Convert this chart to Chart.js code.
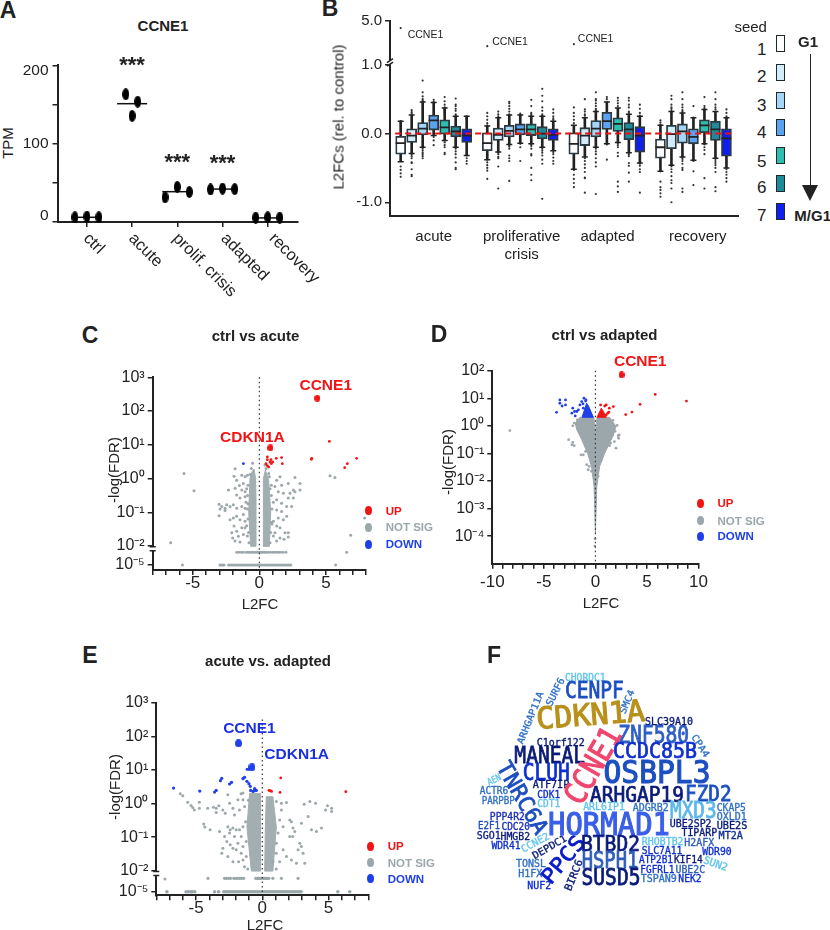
<!DOCTYPE html>
<html>
<head>
<meta charset="utf-8">
<title>CCNE1 figure</title>
<script src="https://cdn.jsdelivr.net/npm/chart.js@4"></script>
<style>
html,body{margin:0;background:#fff}
body{position:relative;width:830px;height:930px;overflow:hidden;font-family:"Liberation Sans",Arial,sans-serif;color:#222}
canvas{position:absolute}
.t{position:absolute;white-space:nowrap;transform:translate(-50%,-50%)}
.dot,.swatch{position:absolute}
</style>
</head>
<body>
<script>
// ---- panel A ----
const tpmGroups = ['ctrl','acute','prolif. crisis','adapted','recovery'];
const tpmValues = [[6,7,6],[163,153.6,135.5],[31.5,44.8,38.3],[41.5,42.7,42],[5.6,6,5.6]];
const tpmMeans = [6,151,38.7,42,5.2];
const tpmStars = [null,'***','***','***',null];
const tpmStarLevels = [null,198,74,73,null];

// ---- panel B: [low whisker, q1, median, q3, high whisker] per seed ----
const seeds = [1,2,3,4,5,6,7];
const conditions = ['acute',['proliferative','crisis'],'adapted','recovery'];
const acuteBoxes = [[-.41,-.3,-.14,-.04,.18],[-.29,-.13,-.03,.07,.27],[-.2,-.02,.07,.16,.46],[-.03,.05,.19,.27,.45],[-.1,-.01,.09,.2,.37],[-.2,-.05,.03,.11,.25],[-.32,-.13,-.03,.07,.25]];
const prolifBoxes = [[-.38,-.25,-.14,.01,.11],[-.27,-.1,-.02,.08,.23],[-.16,-.05,.04,.12,.27],[-.14,-.02,.06,.14,.27],[-.15,-.03,.06,.14,.25],[-.2,-.08,0,.1,.25],[-.25,-.1,-.02,.07,.18]];
const adaptedBoxes = [[-.52,-.3,-.15,.01,.12],[-.34,-.175,-.03,.085,.23],[-.2,-.05,.07,.19,.32],[-.15,.06,.18,.31,.46],[-.13,.03,.14,.23,.37],[-.28,-.09,.06,.16,.28],[-.43,-.27,-.03,.1,.25]];
const recoveryBoxes = [[-.55,-.36,-.2,-.08,.12],[-.46,-.22,-.01,.12,.32],[-.34,-.14,.03,.14,.3],[-.39,-.15,-.05,.07,.23],[-.15,0,.12,.2,.35],[-.36,-.1,.06,.18,.32],[-.5,-.33,-.07,.07,.23]];
const acuteOutliers = [[.18,.15,-.48,-.53,-.58,-.63],[.34,.31,.29,-.3,-.33,-.36,-.42,-.43,-.52,-.6,-.62],[.77,.6,.54,.5,.48,.46,-.2,-.22,-.25,-.28,-.3,-.33,-.36],[.49,.46,-.05,-.1,-.17],[.53,.47,.42,.38,.35,.33,.3,-.1,-.13,-.17,-.2,-.28,-.3],[.51,.42,.4,.36,.33,.28,.26,.24,-.2,-.22,-.26,-.3,-.35,-.42,-.5,-.52],[.25,.22,.2,-.32,-.36,-.4,-.44]];
const prolifOutliers = [[.3,.25,.2,.15,.12,-.38,-.42,-.46,-.5,-.54,-.66],[.32,.28,.25,.22,-.28,-.3,-.34,-.36,-.48,-.8],[.46,.44,.4,.36,.32,.28,-.17,-.19,-.22,-.32,-.36,-.4,-.69],[.29,.27,-.15,-.2,-.4],[.49,.4,.3,.28,.26,-.16,-.18,-.22,-.3,-.32,-.5,-.6,-.68],[.65,.55,.47,.38,.33,.28,.26,-.22,-.25,-.28,-.32,-.38,-.44,-.95],[.35,.3,.25,.22,.2,-.27,-.3,-.35,-.4,-.44]];
const adaptedOutliers = [[.38,.3,.25,.2,.15,-.53,-.6,-.66,-.72,-.78],[.5,.35,.32,.28,.26,-.36,-.4,-.45,-.5,-.56,-.64,-.65,-.86],[.6,.5,.48,.44,.4,.36,.34,-.22,-.26,-.3,-.36,-.42,-.48,-.88],[.53,.5,-.16,-.38],[.52,.48,.44,.4,-.14,-.17,-.2,-.28,-.33,-.7,-.77,-.85],[.52,.48,.42,.38,.32,.3,-.3,-.33,-.43,-.47,-.57,-.7],[.42,.36,.3,.26,-.44,-.47,-.52,-.56,-.86]];
const recoveryOutliers = [[.19,.16,.13,-.55,-.7,-.78,-.82,-.87,-.92],[.55,.5,.42,.38,.36,.33,-.46,-.48,-.52,-.56,-.62,-.68,-.72,-.8,-1],[.6,.5,.42,.38,.34,.32,-.34,-.37,-.4,-.44,-.5,-.53,-.8,-.85],[.4,.23,-.4,-.55,-.75],[.53,.4,.37,.35,-.16,-.2,-.24,-.3,-.65,-.8],[.6,.5,.42,.38,.35,-.37,-.4,-.43,-.46,-.5,-.56,-.78,-.84],[.35,.3,.25,-.52,-.56,-.6,-.65,-.7]];
const ccne1L2fc = [4.3,2.5,2.7];

// ---- volcano panels: [L2FC, log10(-log FDR)]. The packed centre of each cloud
// cannot be read point by point, so it is kept as an outline of that region. ----
const cUp = [[5.25,1.1],[3.9,.57],[3.93,.6],[7.3,.6],[6.6,.44],[6.4,.32],[.6,.64],[.6,.56],[.87,.56],[1.27,.6],[1.67,.62],[1.72,.44],[.5,.44],[.6,.38],[.7,.34],[.9,.44],[1,.49],[.8,.49]];
const cDown = [[-1.2,.44]];
const cHits = [[4.35,2.38],[.83,.91]];
const cCoreL = [[-.25,-2.05],[-.25,-.6],[-.28,0],[-.4,.28],[-.55,.2],[-.7,0],[-.8,-1],[-.65,-2.05]];
const cCoreR = [[.28,-2.05],[.28,-.6],[.32,0],[.45,.25],[.7,-.05],[.85,-1],[.75,-2.05]];
const cGray = [[-5.65,.15],[-4.9,-.36],[-6.65,-1.9],[-5.77,-5],[5.3,.08],[5.67,.03],[6.85,-1.68],[6.55,-3],[5.72,-5],[7.9,-1.17],
[-1.82,.29],[-1.9,.07],[-1.32,.1],[-1.7,-.05],[-1.07,.05],[-1.2,-.15],[-1.5,-.21],[-2.32,-.34],[-1.82,-.29],[-1.32,-.34],[-1.07,-.39],[-1.7,-.49],[-1.45,-.58],[-1.07,-.54],[-3.02,-.76],[-2.82,-.83],[-2.57,-.88],[-2.95,-.9],[-2.45,-.78],[-2.2,-.83],[-1.95,-.78],[-1.7,-.88],[-1.32,-.83],[-1.07,-.88],[-3.02,-1.1],[-2.57,-.95],[-2.2,-1.22],[-1.95,-1.17],[-1.7,-1.12],[-1.45,-1.22],[-1.2,-1.07],[-1.07,-1.27],[-1.9,-1.41],[-2.07,-1.61],[-1.7,-1.56],[-2,-1.76],[-1.57,-1.71],[-1.32,-1.46],[-1.2,-1.66],[-1.07,-1.46],[-1.45,-1.88],[-1.82,-1.85],
[2.67,.03],[3.05,-.15],[1.55,.05],[1.3,-.05],[2.17,-.15],[1.67,-.2],[1.17,-.24],[2.55,-.34],[2.3,-.44],[2.67,-.39],[3.05,-.34],[1.42,-.39],[1.8,-.44],[2.17,-.58],[2.55,-.58],[1.3,-.63],[1.67,-.73],[2.05,-.83],[2.42,-.83],[1.3,-.93],[1.67,-.98],[2.05,-1.12],[1.42,-1.17],[1.8,-1.22],[1.05,-1.27],[1.3,-1.41],[1.55,-1.46],[1.92,-1.61],[2.17,-1.61],[1.17,-1.61],[1.55,-1.76],[1.85,-1.8],[1.3,-1.85],[2.17,-1.73],
[-.6,.3],[-.7,.12],[-.9,.1],[-.95,-.3],[-1,-.7],[-.95,-1.4],[-.9,-1.7],[.5,.3],[.7,.15],[.9,-.2],[1.05,-.7],[1.05,-1.7],[.95,-1.35],
[-.85,-.2],[-.88,-.5],[-.9,-.9],[-.85,-1.2],[-.8,-1.6],[.8,-.3],[.9,-.5],[.95,-.9],[.9,-1.3],[.85,-1.6],[.8,-1.9],[-.78,-1.9],[-.85,-.75],[.75,.05],[-.5,.45],[.42,.4]];
const cRowMid = [-1.7,-1.6,-1.45,-1.3,-1.2,-1,-.9,-.8,-.7,-.6,-.5,-.4,-.3,-.2,-.1,0,.1,.2,.3,.4,.5,.6,.7,.85,1,1.1,1.25,1.4,1.5,1.65,1.8,2];
const cRowLow = [-2.95,-2.8,-2.65,-2.3,-2.15,-2,-1.85,-1.7,-1.55,-1.4,-1.25,-1.1,-.95,-.8,-.65,-.5,-.35,-.2,-.05,.1,.25,.4,.55,.7,.85,1,1.15,1.3,1.45,1.6,1.75,1.9,2.05,2.2,2.35];

const dUp = [[.5,.76],[.9,.72],[1.05,.76],[1.35,.64],[1.74,.7],[1.2,.46],[1.05,.4],[1.3,.5],[2.94,.41],[3.54,.5],[4.33,.78],[5.8,1.14],[8.83,.9]];
const dDown = [[-3.77,.49],[-3.45,.94],[-3.45,.82],[-3.23,.72],[-2.9,.76],[-2.9,.94],[-2.2,.64],[-2.28,.46],[-2.02,.52],[-1.8,.52],[-1.96,.36],[-1.5,.76],[-1.33,.88],[-1.11,1],[-.92,.94],[-1.65,.58],[-1.17,.64],[-.95,.9],[-1.2,.8]];
const dHits = [[2.53,1.85]];
const dCore = [[0,-3.9],[-.13,-2.2],[-.38,-1.47],[-.76,-1],[-1.33,-.5],[-1.8,-.15],[-1.96,.1],[-1.5,.31],[-.16,.31],[-.06,-.02],[0,-.63],[.06,-.02],[.16,.31],[1.36,.31],[2,-.02],[1.68,-.39],[.89,-1],[.41,-1.47],[.13,-2.2]];
const dCoreDown = [[-1.3,.31],[-.85,.82],[-.65,.7],[-.2,.31]];
const dCoreUp = [[.16,.31],[.57,.64],[.8,.5],[1.05,.31]];
const dGray = [[-8.3,-.17],[-2.6,-.5],[-2.28,-.69],[-2.06,-.72],[-2.2,-.6],[-1.17,-1.05],[-1.39,-1.05],[-.95,-.93],[-.85,-1.41],[-.6,-1.47],[-.7,-1.59],[-.38,-1.65],[2.2,-.36],[1.84,-.57],[1.46,-.63],[1.2,-.69],[2,-.81],[1.36,-.72],[1.68,-.33],[2.25,-.45],[2.3,-.33],[-.06,-4.36],[-.03,-4.1],[-2.05,.1],[-2.2,0],[.57,-1.23],[.25,-1.83],[-.22,-1.77],[1.9,-.2],[2.1,.02],[1.7,.2],[-1.75,.22]];

const eUp = [[1.39,.76],[.5,.39],[.6,.38],[.7,.36],[1.34,.33],[6.3,.35]];
const eDown = [[-6.7,.46],[-4.72,.37],[-3.6,.34],[-3.48,.39],[-3.16,.68],[-3.06,.75],[-2.47,.58],[-2.32,.63],[-1.46,.74],[-1.34,.78],[-1.16,.66],[-1.01,.59],[-.91,.51],[-.58,.44],[-.88,.39],[-.7,.36],[-.45,.39],[-1,1.02],[-1.14,1.02],[-.6,.38]];
const eHits = [[-1.8,1.79],[-.78,1.08]];
const eCoreL = [[-.13,-2.05],[-.13,.3],[-.96,.3],[-1.16,-.7],[-.83,-2.05]];
const eCoreR = [[.18,-2.05],[.23,-.7],[.3,.2],[.8,.2],[1.06,-.7],[.8,-2.05]];
const eGray = [[-6.19,.29],[-6,.23],[-5.63,.04],[-5.38,-.06],[-5.25,-.12],[-5.13,-.19],[-4.75,.04],[-4.75,-.14],[-4.12,-.14],[-3.69,-.11],[-3.48,-.14],[-3.28,-.07],[-3.48,-.27],[-2.98,-.19],[-2.8,-.29],[-2.6,.26],[-2.47,.01],[-2.22,-.14],[-1.84,.11],[-1.6,.29],[-1.46,.31],[-1.46,.11],[-1.34,-.09],[-1.72,-.19],[-2.1,-.34],[-4.42,-.61],[-4.34,-.7],[-3.94,-.78],[-3.23,-.83],[-2.6,-.69],[-2.42,-.78],[-2.22,-.73],[-1.97,-.78],[-2.85,-.98],[-2.47,-.88],[-1.72,-.78],[-1.46,-.69],[-1.26,-.54],[-1.59,-.98],[-2.1,-.98],[-2.68,-1.13],[-2.98,-1.33],[-2.42,-1.23],[-2.22,-1.33],[-1.84,-1.18],[-1.46,-1.28],[-1.21,-1.13],[-3.06,-1.48],[-2.6,-1.58],[-1.97,-1.38],[-1.59,-1.48],[-2.22,-1.73],[-1.79,-1.73],[-1.46,-1.68],[-1.34,-1.88],[-1.21,-1.58],
[3.16,-.02],[3.59,.06],[4.02,.01],[4.92,-.07],[4.77,-.19],[5.23,-.14],[5.23,-.24],[1.82,.03],[1.44,.01],[2.07,-.49],[2.2,-.54],[3.46,-.39],[3.71,-.78],[4.09,-.83],[4.47,-.73],[2.95,-.59],[2.32,-.73],[2.45,-.83],[1.31,-.49],[1.57,-.69],[2.07,-.98],[2.3,-.98],[1.19,-.88],[1.57,-1.38],[1.06,-1.18],[2.83,-1.18],[2.95,-1.28],[2.7,-1.38],[3.08,-1.48],[1.82,-1.58],[2.2,-1.68],[2.58,-1.78],[3.2,-1.78],[1.31,-1.73],[.81,-1.73],[1.06,-1.48],[1.44,-.19],[1.06,.06],[-7.35,-3.1],[-1.1,-1.95],[-1.05,.1],[1.05,-1.95]];
const eRowMid = [-4.1,-2.85,-2.7,-2.55,-2.4,-2.15,-2,-1.85,-1.7,-1.55,-1.4,-.5,-.42,-.35,-.27,-.2,-.12,-.05,.1,.18,.25,.33,.4,.5,.8,1.44,2.7];
const eRowLow = [-7.2,-5.75,-5.6,-5.4,-5.3,-5.1,-3.6,-3.3,-2.9,-2.75,-2.6,-2.45,-2.3,-2.15,-2,-1.85,-1.7,-1.55,-1.4,-1.25,-1.1,-.95,-.8,-.65,-.5,-.35,-.2,-.05,.1,.25,.4,.55,.7,.85,1,1.15,1.3,1.45,1.6,1.75,1.9,2.05,2.2,2.35,2.5,2.65,2.8,2.93,5.7,6.6];

// ---- panel F ----
const cloudWords = ['CHORDC1','SURF6','ARHGAP11A','CENPF','SMC4','CDKN1A','C1orf122','MANEAL','CLUH','TNRC6A','AEN','ACTR6','PARPBP','ATF7IP','CDK1','CDT1','PPP4R2','E2F1','CDC20','SGO1','HMGB2','WDR41','CCNE2','DEPDC1','TONSL','H1FX','NUF2','PPCS','BIRC6','CCNE1','ZNF580','CCDC85B','SLC39A10','CPA4','OSBPL3','ARHGAP19','FZD2','ADGRB2','ARL6IP1','MXD3','CKAP5','OXLD1','UBE2S','MT2A','UBE2SP2','TIPARP','H2AFX','RHOBTB2','SLC7A11','WDR90','ATP2B1','KIF14','SUN2','FGFRL1','UBE2C','TSPAN9','NEK2','HORMAD1','BTBD2','HSPH1','SUSD5'];

// layout of the cloud, same order as cloudWords: x, y, width, font size, angle, colour
const NAVY='#0a1a78',ROYAL='#0f2fd0',MID='#1c4fc0',STEEL='#2f6fc7',SKY='#63c5ea';
const cloudLayout = [[585.3,677.3,40.7,10,0,SKY],[555,691.7,30,10,-63,STEEL],[530,717.7,55.6,9.5,-68,STEEL],[594.4,690,59,23,0,MID],[626.7,701.7,25,9.5,-67,STEEL],[590.5,714,109,30,-4.4,'#b8911a'],[560.7,742,48,11,0,NAVY],[549.7,755,70.7,23,0,NAVY],[546.3,771.7,47,23,0,ROYAL],[523,797.5,80,22,60,MID],[494,779.3,14,9.5,-25,SKY],[494,790,28.5,10.5,0,STEEL],[498.3,800,33,10.5,0,STEEL],[551,784,36.7,10.5,0,NAVY],[548.7,793.7,22.7,11,0,ROYAL],[548.7,803,23,11,0,SKY],[507.3,816,35,10.5,0,'#1c2fb8'],[489,825.3,22,10.5,0,MID],[515.7,825.7,28.5,10.5,0,'#1c2fb8'],[488.7,835,24,10.5,0,'#0f1f90'],[515.3,835.7,29.5,10.5,0,NAVY],[506,845,29,10.5,0,ROYAL],[535,842.3,30.6,10,-28,SKY],[549.3,846.7,38,10,-30,NAVY],[531,863.3,30,10.5,0,STEEL],[530.3,873.3,24,10.5,0,STEEL],[539.3,885.3,24,10.5,0,ROYAL],[562.7,859.3,55.7,21,-50,'#0a18c8'],[573.3,875,32.6,10.5,-68,NAVY],[592,765,83.6,31,-60,'#f0466e'],[653.7,734,71,24,0,'#2f5fc7'],[655,750.7,84,21,0,ROYAL],[669,720.7,48,10.5,0,NAVY],[700.7,745.7,25,9.5,57,STEEL],[657,771.7,107,32,0,MID],[637,794,94,21,0,NAVY],[708.3,793.3,46.7,22,0,MID],[650.7,806.7,36,10.5,0,STEEL],[604,806.7,41.7,10,0,SKY],[693.3,810,46.7,23,0,'#5bb8e8'],[731.3,806.7,29,10.5,0,STEEL],[731.7,816,30,10.5,0,STEEL],[732,825,30.7,10.5,0,NAVY],[730.7,835,24.3,10.5,0,'#0f2f90'],[690.7,823.3,41.7,10.5,0,NAVY],[699.3,832.3,35.7,11,0,NAVY],[699.3,842,30,10.5,0,'#2f5fb8'],[662.7,841,41.7,10.5,0,SKY],[662,850,40.7,10.5,0,ROYAL],[717,851,29.3,10.5,0,ROYAL],[656,859.3,34,10.5,0,ROYAL],[688.3,859.3,28.7,10.5,0,NAVY],[715.7,863.3,25,10.5,20,SKY],[657.3,869,34,10.5,0,ROYAL],[690.3,869,29.5,10.5,0,'#2f5fb8'],[658.7,878.3,36,10.5,0,STEEL],[690,878.3,23.3,10.5,0,ROYAL],[609,823.3,122,32,0,'#3a5fe8'],[610.5,843.7,59,21,0,NAVY],[610,860,56.7,23,0,'#2f5fb8'],[611,876.7,59,23,0,NAVY]];

const INK='#222', RED='#f01414', BLUE='#1f3fe8', GRAY='#9ba7aa', CORE='#a3aeb1';
const SANS='"Liberation Sans", Arial, sans-serif';
const seedColors = ['#ffffff','#d3ecfb','#a5d5f8','#5ba3f0','#2fbdb0','#1e8a9a','#0f1ff0'];

// value -> pixel through fixed knots, for the axes with a break and the exponent axes
class BrokenScale extends Chart.LinearScale {
  static id = 'broken';
  static defaults = Chart.LinearScale.defaults;
  determineDataLimits() {
    const k = this.options.knots;
    this.min = k[0][0];
    this.max = k[k.length-1][0];
  }
  buildTicks() { return this.options.tickValues.map(v => ({value:v})); }
  getPixelForValue(v) {
    const k = this.options.knots;
    let i = 0;
    while (i < k.length-2 && v > k[i+1][0]) i++;
    const f = k[i][1] + (v-k[i][0])/(k[i+1][0]-k[i][0])*(k[i+1][1]-k[i][1]);
    return this.getPixelForDecimal(f);
  }
  getValueForPixel(p) {
    const k = this.options.knots, f = this.getDecimalForPixel(p);
    let i = 0;
    while (i < k.length-2 && f > k[i+1][1]) i++;
    return k[i][0] + (f-k[i][1])/(k[i+1][1]-k[i][1])*(k[i+1][0]-k[i][0]);
  }
}
Chart.register(BrokenScale);

function knots(pairs, top, bottom) {
  return pairs.map(p => [p[0], (bottom-p[1])/(bottom-top)]);
}

// places a chart so that its plot area lands on the given page rectangle
function addChart(area, margin, config) {
  const left = Math.floor(area.l-margin[0]), top = Math.floor(area.t-margin[1]);
  const w = Math.ceil(area.r+margin[2])-left, h = Math.ceil(area.b+margin[3])-top;
  const c = document.createElement('canvas');
  c.width = w; c.height = h;
  c.style.left = left+'px'; c.style.top = top+'px';
  document.body.appendChild(c);
  config.options.responsive = false;
  config.options.animation = false;
  config.options.events = [];
  config.options.layout = {autoPadding:false, padding:{top:area.t-top, right:left+w-area.r}};
  config.options.plugins = {legend:{display:false}, tooltip:{enabled:false}};
  config.options.scales.x.afterFit = s => { s.height = top+h-area.b; };
  config.options.scales.y.afterFit = s => { s.width = area.l-left; };
  return new Chart(c, config);
}

function addText(text, x, y, style, rot) {
  const d = document.createElement('div');
  d.className = 't';
  d.textContent = text;
  d.style.cssText = 'left:'+x+'px;top:'+y+'px;'+(style||'')+(rot?';transform:translate(-50%,-50%) rotate('+rot+'deg)':'');
  document.body.appendChild(d);
}

// text tied to data coordinates, drawn on the chart
function notes(items) {
  return {id:'notes', afterDatasetsDraw(chart) {
    const ctx = chart.ctx;
    items.forEach(n => {
      ctx.save();
      ctx.translate(chart.scales.x.getPixelForValue(n.x)+(n.dx||0), chart.scales.y.getPixelForValue(n.y)+(n.dy||0));
      if (n.rot) ctx.rotate(n.rot*Math.PI/180);
      ctx.font = n.font;
      ctx.fillStyle = n.color||INK;
      ctx.textAlign = n.align||'center';
      ctx.textBaseline = 'middle';
      ctx.fillText(n.text, 0, 0);
      ctx.restore();
    });
  }};
}

// white gap and small marks where the y axis is interrupted
function axisBreak(from, to, slanted) {
  return {id:'axisBreak', afterDraw(chart) {
    const ctx = chart.ctx, y = chart.scales.y, xp = chart.chartArea.left;
    const a = y.getPixelForValue(from), b = y.getPixelForValue(to);
    ctx.save();
    ctx.fillStyle = '#fff';
    ctx.fillRect(xp-2, b, 4, a-b);
    ctx.strokeStyle = INK;
    ctx.lineWidth = 1.5;
    ctx.beginPath();
    const s = slanted ? 2 : 0;
    ctx.moveTo(xp-3, a+s); ctx.lineTo(xp+3, a-s);
    ctx.moveTo(xp-3, b+s); ctx.lineTo(xp+3, b-s);
    ctx.stroke();
    ctx.restore();
  }};
}

function ellipseDot(color, w, h) {
  const c = document.createElement('canvas');
  c.width = w; c.height = h;
  const g = c.getContext('2d');
  g.fillStyle = color;
  g.beginPath();
  g.ellipse(w/2, h/2, w/2, h/2, 0, 0, Math.PI*2);
  g.fill();
  return c;
}

function dots(list, color, r, order) {
  return {type:'scatter', data:list.map(p => ({x:p[0], y:p[1]})), pointRadius:r, pointBackgroundColor:color, pointBorderWidth:0, order:order, clip:false};
}
function shape(list, color, order) {
  return {type:'scatter', data:list.concat([list[0]]).map(p => ({x:p[0], y:p[1]})), showLine:true, fill:'shape', backgroundColor:color, borderColor:color, borderWidth:1, pointRadius:0, order:order, clip:false};
}
function row(xs, e) { return xs.map(x => [x, e]); }

const axisBorder = {color:INK, width:2};
const tickGrid = {drawOnChartArea:false, color:INK, tickColor:INK, tickLength:5, lineWidth:1.5};

// ---- A ----
const jitters = [[-.265,0,.265],[-.14,.125,0],[-.27,0,.265],[-.265,0,.27],[-.265,0,.265]];
const labelShift = [-1,-1,-2,1,4];
const tpmPoints = [];
tpmValues.forEach((vals,g) => vals.forEach((v,i) => tpmPoints.push([g+jitters[g][i], v])));
const tpmNotes = [{text:'200',x:-.65,y:200,dx:-9,dy:5,align:'right',font:'15.5px '+SANS},{text:'0',x:-.65,y:0,dx:-9,dy:-6,align:'right',font:'15.5px '+SANS}];
tpmStars.forEach((s,g) => { if (s) tpmNotes.push({text:s,x:g,y:tpmStarLevels[g],dy:-1,font:'bold 22px '+SANS}); });
tpmGroups.forEach((name,g) => tpmNotes.push({text:name,x:g,y:0,dx:labelShift[g],dy:14,rot:45,align:'left',font:'16.5px '+SANS}));
addChart({l:57.5,t:57,r:298,b:222}, [40,5,50,85], {
  type:'scatter',
  data:{datasets:[
    {data:tpmPoints.map(p => ({x:p[0],y:p[1]})), pointStyle:ellipseDot('#000',7,12), pointRadius:5, order:1, clip:false},
    {data:tpmMeans.map((v,g) => ({x:g,y:v})), pointStyle:'line', pointRadius:15, pointBorderColor:'#111', pointBorderWidth:1.5, order:2, clip:false}
  ]},
  options:{scales:{
    x:{type:'linear', min:-.65, max:4.67, border:axisBorder, grid:tickGrid,
      afterBuildTicks:s => { s.ticks = tpmGroups.map((n,g) => ({value:g})); },
      ticks:{callback:()=>'', autoSkip:false, maxRotation:0}},
    y:{min:0, max:200, border:axisBorder, grid:tickGrid,
      ticks:{stepSize:50, padding:4, color:INK, font:{size:15.5,family:SANS}, callback:v => v===100 ? '100' : ''}}
  }},
  plugins:[notes(tpmNotes)]
});

// ---- B ----
const groupStep = 7.87;
const allBoxes = [acuteBoxes,prolifBoxes,adaptedBoxes,recoveryBoxes];
const allOutliers = [acuteOutliers,prolifOutliers,adaptedOutliers,recoveryOutliers];
const bDatasets = [];
seeds.forEach((seed,s) => {
  const at = g => g*groupStep+s;
  bDatasets.push({type:'bar', grouped:false, barThickness:10, data:allBoxes.map((b,g) => ({x:at(g),y:[b[s][1],b[s][3]]})), backgroundColor:seedColors[s], borderColor:'#2b3a40', borderWidth:1.8, borderSkipped:false, order:4});
  bDatasets.push({type:'bar', grouped:false, barThickness:2, data:allBoxes.map((b,g) => ({x:at(g),y:[b[s][0],b[s][4]]})), backgroundColor:'#222', order:5});
  bDatasets.push({type:'scatter', data:allBoxes.map((b,g) => ({x:at(g),y:b[s][2]})), pointStyle:'line', pointRadius:5, pointBorderColor:'#222', pointBorderWidth:1.8, order:3});
  const caps = [];
  allBoxes.forEach((b,g) => { caps.push({x:at(g),y:b[s][0]}); caps.push({x:at(g),y:b[s][4]}); });
  bDatasets.push({type:'scatter', data:caps, pointStyle:'line', pointRadius:3, pointBorderColor:'#222', pointBorderWidth:1.5, order:5});
  const outs = [];
  allOutliers.forEach((o,g) => o[s].forEach(v => outs.push({x:at(g),y:v})));
  bDatasets.push({type:'scatter', data:outs, pointRadius:1.1, pointBackgroundColor:'#333', pointBorderWidth:0, order:6, clip:false});
});
bDatasets.push({type:'scatter', data:[{x:-.5,y:0},{x:30.2,y:0}], showLine:true, borderColor:'#ee1111', borderWidth:2, borderDash:[6,4], pointRadius:0, order:1});
bDatasets.push({type:'scatter', data:ccne1L2fc.map((v,g) => ({x:g*groupStep,y:v})), pointRadius:1.1, pointBackgroundColor:'#333', pointBorderWidth:0, order:1});
const bNotes = [[7,7],[5,-4],[4,-5]].map((d,g) => ({text:'CCNE1',x:g*groupStep,y:ccne1L2fc[g],dx:d[0],dy:d[1],align:'left',font:'10.5px '+SANS}));
const bTicks = [3,11,18.8,27];
addChart({l:390,t:17,r:738,b:216}, [40,8,5,45], {
  type:'bar',
  data:{datasets:bDatasets},
  options:{scales:{
    x:{type:'linear', min:-.97, max:30.66, offset:false, border:axisBorder,
      grid:{offset:false, drawOnChartArea:false, drawTicks:false, display:true},
      afterBuildTicks:s => { s.ticks = bTicks.map(v => ({value:v})); },
      ticks:{autoSkip:false, maxRotation:0, padding:12, color:INK, font:{size:15,family:SANS}, callback:(v,i) => conditions[i]}},
    y:{type:'broken', knots:knots([[-1.2,216],[1,61.7],[1.2,56],[5,17]],17,216), tickValues:[-1,0,1,5],
      border:axisBorder, grid:tickGrid,
      ticks:{autoSkip:false, padding:3, color:INK, font:{size:15,family:SANS}, callback:v => v.toFixed(1)}}
  }},
  plugins:[notes(bNotes), axisBreak(1.02,1.15,true)]
});

// ---- C, D, E ----
const superDigits = {'-':'⁻','0':'⁰','1':'¹','2':'²','3':'³','4':'⁴','5':'⁵'};
function powerLabel(v) { return '10'+String(v).split('').map(ch => superDigits[ch]).join(''); }

function volcano(v) {
  const a = v.area;
  addChart(a, [45,26,8,30], {
    type:'scatter',
    data:{datasets:v.datasets.concat([
      {data:[{x:0,y:v.lineTop},{x:0,y:v.lineBottom}], showLine:true, borderColor:'#333', borderWidth:1.2, borderDash:[1.5,3], pointRadius:0, order:1}
    ])},
    options:{scales:{
      x:{type:'linear', min:v.xMin, max:v.xMax, border:axisBorder, grid:tickGrid,
        ticks:{stepSize:1, autoSkip:false, maxRotation:0, padding:v.xPad, color:INK, font:{size:17,family:SANS}, callback:t => t%5===0 ? String(t) : ''}},
      y:{type:'broken', knots:v.knots, tickValues:v.yTicks, border:axisBorder, grid:tickGrid,
        ticks:{autoSkip:false, padding:3, color:INK, font:{size:16,family:SANS}, callback:powerLabel}}
    }},
    plugins:[notes(v.labels)].concat(v.brk ? [axisBreak(v.brk[0],v.brk[1],false)] : [])
  });
}

function legendBlock(dotX, ys, labelX) {
  const names = ['UP','NOT SIG','DOWN'], cols = [RED,GRAY,BLUE];
  names.forEach((n,i) => {
    const d = document.createElement('div');
    d.className = 'dot';
    d.style.cssText = 'left:'+(dotX-3.5)+'px;top:'+(ys[i]-4.5)+'px;width:7px;height:9px;border-radius:50%;background:'+cols[i];
    document.body.appendChild(d);
    addText(n, labelX, ys[i], 'transform:translateY(-50%);font:bold 11.5px '+SANS+';color:'+cols[i]);
  });
}

const boldLabel = 'bold 15.5px '+SANS;
volcano({
  area:{l:152.7,t:377.3,r:366,b:570}, xMin:-8, xMax:8, lineTop:3, lineBottom:-5.4, brk:[-2.1,-2.65], xPad:-2,
  knots:knots([[-5.4,570],[-5,565],[-3,552.3],[-2.7,551],[-2,546],[3,377.3]],377.3,570),
  yTicks:[-5,-2,-1,0,1,2,3],
  datasets:[shape(cCoreL,CORE,9),shape(cCoreR,CORE,9),
    dots(cGray,GRAY,1.5,8),dots(row(cRowMid,-3),GRAY,1.4,8),dots(row(cRowLow,-5),GRAY,1.6,8),
    dots(cUp,RED,1.4,3),dots(cDown,BLUE,1.4,3),
    {data:cHits.map(p => ({x:p[0],y:p[1]})), pointStyle:ellipseDot(RED,6,7), pointRadius:3, order:2, clip:false}],
  labels:[{text:'CCNE1',x:cHits[0][0],y:cHits[0][1],dx:8.4,dy:-13,font:boldLabel,color:RED},{text:'CDKN1A',x:cHits[1][0],y:cHits[1][1],dx:-18,dy:-10,font:boldLabel,color:RED}]
});
volcano({
  area:{l:492.3,t:370.7,r:702.7,b:563.7}, xMin:-10, xMax:10, lineTop:2, lineBottom:-5, xPad:3,
  knots:knots([[-5,563.7],[2,370.7]],370.7,563.7),
  yTicks:[-4,-3,-2,-1,0,1,2],
  datasets:[shape(dCore,GRAY,9),shape(dCoreDown,BLUE,7),shape(dCoreUp,RED,7),
    dots(dGray,GRAY,1.4,8),dots(dUp,RED,1.4,3),dots(dDown,BLUE,1.4,3),
    {data:dHits.map(p => ({x:p[0],y:p[1]})), pointStyle:ellipseDot(RED,6,7), pointRadius:3, order:2, clip:false}],
  labels:[{text:'CCNE1',x:dHits[0][0],y:dHits[0][1],dx:18.7,dy:-13.4,font:boldLabel,color:RED}]
});
volcano({
  area:{l:156.3,t:702.7,r:368.3,b:895.3}, xMin:-8, xMax:8, lineTop:2.5, lineBottom:-5.35, brk:[-2.1,-2.65], xPad:-2,
  knots:knots([[-5.35,895.3],[-5,891.7],[-3,878.3],[-2.7,876],[-2,870.7],[3,702.7]],702.7,895.3),
  yTicks:[-5,-2,-1,0,1,2,3],
  datasets:[shape(eCoreL,CORE,9),shape(eCoreR,CORE,9),
    dots(eGray,GRAY,1.5,8),dots(row(eRowMid,-3),GRAY,1.6,8),dots(row(eRowLow,-5),GRAY,1.8,8),
    dots(eUp,RED,1.4,3),dots(eDown,BLUE,1.6,3),
    {data:eHits.map(p => ({x:p[0],y:p[1]})), pointStyle:ellipseDot(BLUE,7,8), pointRadius:3, order:2, clip:false}],
  labels:[{text:'CCNE1',x:eHits[0][0],y:eHits[0][1],dx:11,dy:-14.7,font:boldLabel,color:'#1a2fe0'},{text:'CDKN1A',x:eHits[1][0],y:eHits[1][1],dx:44.7,dy:-12.7,font:boldLabel,color:'#1a2fe0'}]
});

// ---- F ----
const cloudArea = {l:470,t:660,r:760,b:900};
addChart(cloudArea, [0,0,0,0], {
  type:'scatter',
  data:{labels:cloudWords, datasets:[{data:cloudLayout.map(w => ({x:w[0],y:w[1]})), pointRadius:0}]},
  options:{scales:{
    x:{type:'linear', display:false, min:cloudArea.l, max:cloudArea.r},
    y:{type:'linear', display:false, reverse:true, min:cloudArea.t, max:cloudArea.b}
  }},
  plugins:[{id:'cloud', afterDatasetsDraw(chart) {
    const ctx = chart.ctx, pts = chart.getDatasetMeta(0).data;
    cloudWords.forEach((word,i) => {
      const w = cloudLayout[i];
      ctx.save();
      ctx.translate(pts[i].x, pts[i].y);
      ctx.rotate(w[4]*Math.PI/180);
      ctx.font = w[3]+'px "DejaVu Sans Mono", monospace';
      ctx.scale(w[2]/ctx.measureText(word).width, 1);
      ctx.fillStyle = w[5];
      ctx.strokeStyle = w[5];
      ctx.lineWidth = w[3]*.035;
      ctx.textAlign = 'center';
      ctx.textBaseline = 'alphabetic';
      ctx.fillText(word, 0, w[3]*.365);
      ctx.strokeText(word, 0, w[3]*.365);
      ctx.restore();
    });
  }}]
});

// ---- page text ----
const letter = 'font:bold 23px '+SANS;
addText('A', 8, 10, letter);
addText('B', 330, 8, letter);
addText('C', 90, 335, letter);
addText('D', 439, 334, letter);
addText('E', 90, 655, letter);
addText('F', 494, 655, letter);
const head = 'font:bold 15px '+SANS;
addText('CCNE1', 163, 25, head);
addText('ctrl vs acute', 255.5, 335, head);
addText('ctrl vs adapted', 604.5, 333.5, head);
addText('acute vs. adapted', 268, 659.5, head);
const axisText = 'font:15px '+SANS;
addText('TPM', 7, 143, axisText, -90);
addText('L2FCs (rel. to control)', 337.5, 117, axisText, -90);
addText('-log(FDR)', 113, 470, axisText, -90);
addText('-log(FDR)', 447, 461.5, axisText, -90);
addText('-log(FDR)', 114, 786.5, axisText, -90);
addText('L2FC', 260, 603, axisText);
addText('L2FC', 601, 602, axisText);
addText('L2FC', 265, 924, axisText);
legendBlock(368.3, [510.7,527.3,544], 385.7);
legendBlock(700.3, [503.3,520.7,536.3], 717.5);
legendBlock(370.3, [846,862.7,878.7], 387.7);

// seed key next to panel B
const keyRows = [[35,50],[64,77],[92,106],[119,133],[147,161.7],[175,187.7],[203,215.7]];
seeds.forEach((seed,i) => {
  const d = document.createElement('div');
  d.className = 'swatch';
  d.style.cssText = 'left:776px;top:'+keyRows[i][0]+'px;width:7px;height:14.5px;border:1.7px solid #1c2a30;background:'+seedColors[i];
  document.body.appendChild(d);
  addText(String(seed), 761.7, keyRows[i][1], 'font:17px '+SANS);
});
addText('seed', 750.7, 26, axisText);
addText('G1', 808, 41, 'font:bold 15px '+SANS);
addText('M/G1', 812.7, 215, 'font:bold 15px '+SANS);
const arrowLine = document.createElement('div');
arrowLine.style.cssText = 'position:absolute;left:809.5px;top:54px;width:1.7px;height:136px;background:#222';
document.body.appendChild(arrowLine);
const arrowHead = document.createElement('div');
arrowHead.style.cssText = 'position:absolute;left:802px;top:185px;width:0;height:0;border-left:8.5px solid transparent;border-right:8.5px solid transparent;border-top:16px solid #222';
document.body.appendChild(arrowHead);
</script>
</body>
</html>
